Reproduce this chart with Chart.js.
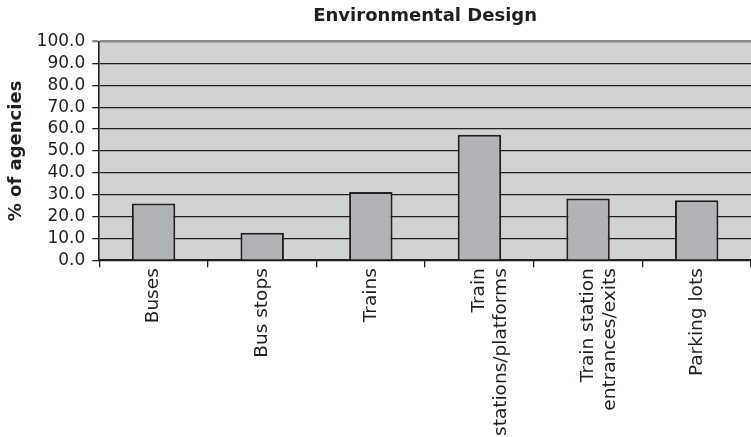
<!DOCTYPE html>
<html lang="en">
<head>
    <meta charset="UTF-8">
    <script src="https://cdn.jsdelivr.net/npm/chart.js@4"></script>
    <title>Environmental Design</title>
    <style>
        body { margin: 0; background: #fff; }
        #wrap { width: 751px; height: 437px; position: relative; }
    </style>
</head>
<body>
    <div id="wrap"><canvas id="myChart"></canvas></div>
</body>
<script>
// data
var categories = ['Buses', 'Bus stops', 'Trains', ['Train', 'stations/platforms'], ['Train station', 'entrances/exits'], 'Parking lots'];
var agencyPct = [26.0, 12.6, 31.2, 57.4, 28.2, 27.4];
var yTicks = [0, 10, 20, 30, 40, 50, 60, 70, 80, 90, 100];

var ink = '#231f20';
var fontFamily = '"DejaVu Sans", "Liberation Sans", Arial, sans-serif';

// grey plot background
var plotBg = {
    id: 'plotBg',
    beforeDraw: function(chart) {
        var a = chart.chartArea, c = chart.ctx;
        c.save();
        c.fillStyle = '#d1d2d4';
        c.fillRect(a.left, a.top, a.right - a.left, a.bottom - a.top);
        c.restore();
    }
};

var ctx = document.getElementById('myChart').getContext('2d');
var chart = new Chart(ctx, {
    type: 'bar',
    data: {
        labels: categories,
        datasets: [{
            label: '% of agencies',
            data: agencyPct,
            backgroundColor: '#b2b3b6',
            borderColor: ink,
            borderWidth: 2,
            barPercentage: 0.4,
            categoryPercentage: 1.0
        }]
    },
    options: {
        responsive: true,
        maintainAspectRatio: false,
        animation: false,
        layout: { padding: { left: 6, right: 0, top: 6, bottom: 0 } },
        plugins: {
            legend: { display: false },
            tooltip: { enabled: false },
            title: {
                display: true,
                text: 'Environmental Design',
                fullSize: false,
                color: ink,
                font: { family: fontFamily, size: 18, weight: 'bold' },
                padding: { top: 0, bottom: 14 }
            }
        },
        scales: {
            x: {
                grid: {
                    offset: true,
                    drawOnChartArea: false,
                    color: ink,
                    lineWidth: 1.3,
                    tickLength: 7
                },
                border: { color: ink, width: 1.6 },
                ticks: {
                    color: ink,
                    font: { family: fontFamily, size: 18.5 },
                    minRotation: 90,
                    maxRotation: 90,
                    autoSkip: false,
                    padding: 1
                }
            },
            y: {
                min: 0,
                max: 100,
                afterBuildTicks: function(axis) {
                    axis.ticks = yTicks.map(function(v) { return { value: v }; });
                },
                grid: {
                    color: function(c) { return c.tick && c.tick.value === 100 ? '#8a8a8c' : ink; },
                    lineWidth: function(c) { return c.tick && c.tick.value === 100 ? 2.4 : 1.3; },
                    tickLength: 7
                },
                border: { color: ink, width: 1.6 },
                ticks: {
                    color: ink,
                    font: { family: fontFamily, size: 17 },
                    padding: 7,
                    autoSkip: false,
                    callback: function(v) { return Number(v).toFixed(1); }
                },
                title: {
                    display: true,
                    text: '% of agencies',
                    color: ink,
                    font: { family: fontFamily, size: 18, weight: 'bold' },
                    padding: { top: 0, bottom: 2 }
                }
            }
        }
    },
    plugins: [plotBg]
});
</script>
</html>
